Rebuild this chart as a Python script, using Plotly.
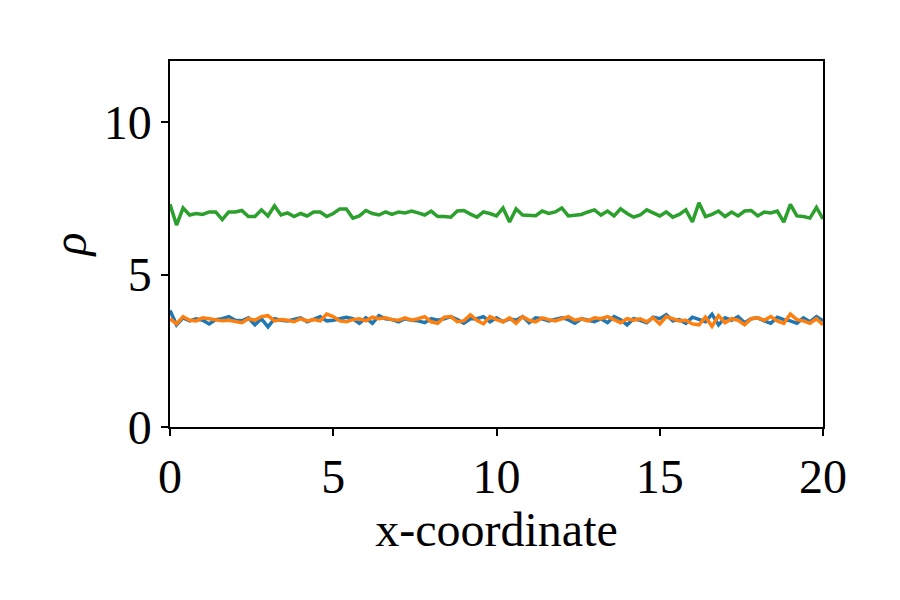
import numpy as np
import plotly.graph_objects as go

x_vals = [round(i * 0.2, 1) for i in range(101)]

rho_blue = [
    3.82, 3.35, 3.58, 3.48, 3.55, 3.50, 3.38, 3.52, 3.55, 3.62,
    3.50, 3.48, 3.58, 3.35, 3.55, 3.28, 3.55, 3.50, 3.48, 3.52,
    3.58, 3.45, 3.52, 3.62, 3.48, 3.50, 3.55, 3.60, 3.55, 3.40,
    3.58, 3.40, 3.65, 3.55, 3.52, 3.45, 3.55, 3.50, 3.48, 3.42,
    3.55, 3.50, 3.55, 3.62, 3.52, 3.40, 3.55, 3.55, 3.62, 3.45,
    3.58, 3.45, 3.55, 3.50, 3.62, 3.42, 3.58, 3.55, 3.48, 3.52,
    3.58, 3.52, 3.40, 3.55, 3.50, 3.45, 3.55, 3.42, 3.62, 3.52,
    3.35, 3.55, 3.50, 3.42, 3.60, 3.55, 3.68, 3.48, 3.52, 3.40,
    3.60, 3.52, 3.45, 3.70, 3.35, 3.58, 3.50, 3.62, 3.42, 3.55,
    3.58, 3.48, 3.40, 3.60, 3.52, 3.48, 3.40, 3.58, 3.45, 3.62,
    3.48,
]

rho_orange = [
    3.55, 3.38, 3.62, 3.50, 3.48, 3.58, 3.55, 3.52, 3.48, 3.50,
    3.45, 3.42, 3.55, 3.50, 3.62, 3.65, 3.48, 3.52, 3.50, 3.45,
    3.55, 3.48, 3.52, 3.48, 3.70, 3.62, 3.48, 3.45, 3.52, 3.55,
    3.48, 3.60, 3.55, 3.58, 3.52, 3.50, 3.58, 3.50, 3.55, 3.62,
    3.45, 3.40, 3.60, 3.62, 3.45, 3.48, 3.68, 3.50, 3.38, 3.62,
    3.52, 3.45, 3.58, 3.40, 3.62, 3.50, 3.45, 3.58, 3.52, 3.48,
    3.55, 3.62, 3.50, 3.55, 3.48, 3.58, 3.55, 3.62, 3.52, 3.42,
    3.55, 3.50, 3.55, 3.45, 3.58, 3.38, 3.62, 3.55, 3.48, 3.50,
    3.38, 3.35, 3.60, 3.30, 3.65, 3.42, 3.55, 3.50, 3.35, 3.55,
    3.58, 3.50, 3.62, 3.48, 3.40, 3.70, 3.52, 3.48, 3.40, 3.55,
    3.35,
]

rho_green = [
    7.30, 6.62, 7.18, 6.95, 7.00, 6.97, 7.05, 7.05, 6.80, 7.05,
    7.05, 7.10, 6.90, 6.90, 7.12, 6.92, 7.25, 6.95, 7.02, 6.90,
    7.00, 6.92, 7.05, 7.05, 6.90, 7.00, 7.15, 7.15, 6.85, 6.92,
    7.10, 7.00, 6.95, 7.05, 6.97, 7.05, 7.02, 7.08, 7.02, 6.95,
    7.08, 6.90, 6.90, 6.88, 7.08, 7.10, 6.98, 6.88, 7.05, 7.00,
    6.92, 7.18, 6.72, 7.15, 6.95, 6.95, 6.93, 7.08, 7.00, 7.05,
    7.18, 6.92, 6.95, 6.97, 7.05, 7.12, 6.95, 7.08, 6.92, 7.15,
    7.00, 6.88, 6.95, 7.12, 7.02, 6.92, 7.05, 6.88, 6.97, 7.12,
    6.72, 7.35, 6.90, 6.97, 7.08, 6.90, 7.05, 6.92, 7.08, 7.10,
    6.92, 7.05, 7.02, 7.08, 6.72, 7.30, 6.92, 6.90, 6.85, 7.20,
    6.82,
]

x_ticks = [0, 5, 10, 15, 20]
y_ticks = [0, 5, 10]

FONT = "Liberation Serif"
FS = 48

fig = go.Figure()
for y, c in [(rho_blue, "#1f77b4"), (rho_orange, "#ff7f0e"), (rho_green, "#2ca02c")]:
    fig.add_trace(go.Scatter(x=x_vals, y=y, mode="lines",
                             line=dict(color=c, width=3.5), showlegend=False))

axis_common = dict(showline=True, linecolor="black", linewidth=1.5, mirror=True,
                   ticks="outside", ticklen=7, tickwidth=1.5, tickcolor="black",
                   showgrid=False, zeroline=False,
                   tickfont=dict(family=FONT, size=FS, color="black"))

fig.update_layout(
    width=900, height=600,
    margin=dict(l=170, r=77, t=61, b=173),
    paper_bgcolor="white", plot_bgcolor="white",
    font=dict(family=FONT, color="black"),
    xaxis=dict(range=[0, 20], tickvals=x_ticks, **axis_common,
               title=dict(text="x-coordinate", font=dict(family=FONT, size=FS), standoff=0)),
    yaxis=dict(range=[0, 12], tickvals=y_ticks, **axis_common,
               title=dict(text="<i>ρ</i>", font=dict(family=FONT, size=FS), standoff=2)),
)

fig.write_html("out.html")
